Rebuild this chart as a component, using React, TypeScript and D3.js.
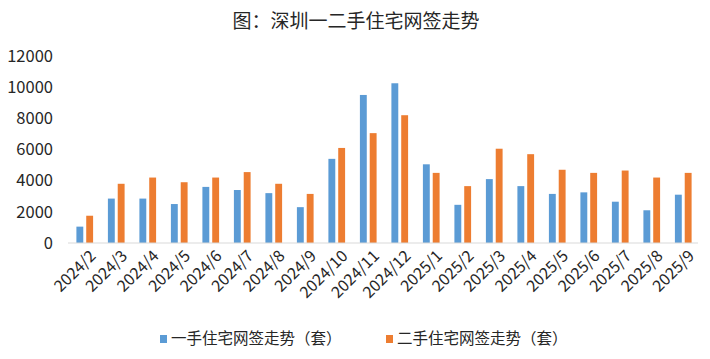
import React from 'react';
import * as d3 from 'd3';

const months = [
  '2024/2', '2024/3', '2024/4', '2024/5', '2024/6', '2024/7', '2024/8', '2024/9', '2024/10', '2024/11',
  '2024/12', '2025/1', '2025/2', '2025/3', '2025/4', '2025/5', '2025/6', '2025/7', '2025/8', '2025/9',
];
const newHomes = [1050, 2850, 2850, 2500, 3600, 3400, 3200, 2300, 5400, 9500, 10250, 5050, 2450, 4100, 3650, 3150, 3250, 2650, 2100, 3100];
const resaleHomes = [1750, 3800, 4200, 3900, 4200, 4550, 3800, 3150, 6100, 7050, 8200, 4500, 3650, 6050, 5700, 4700, 4500, 4650, 4200, 4500];
const seriesNames = ['一手住宅网签走势（套）', '二手住宅网签走势（套）'];
const colors = ['#5B9BD5', '#ED7D31'];
const yTicks = [0, 2000, 4000, 6000, 8000, 10000, 12000];

const font = '"Noto Sans CJK SC", "Noto Sans", sans-serif';

const App = () => {
  const width = 710;
  const height = 359;

  const x0 = d3.scaleBand().domain(months).range([69, 699]).paddingInner(0.47).paddingOuter(0.235);
  const x1 = d3.scaleBand().domain(['a', 'b']).range([0, x0.bandwidth()]).paddingInner(0.3);
  const y = d3.scaleLinear().domain([0, 12000]).range([243, 56]);

  const rows = months.map((m, i) => ({ m, a: newHomes[i], b: resaleHomes[i] }));

  return (
    <svg width={width} height={height} style={{ position: 'absolute', left: 0, top: 0, background: '#fff' }} fontFamily={font}>
      <text x={356} y={28} textAnchor="middle" fontSize={19} fill="#262626">图：深圳一二手住宅网签走势</text>

      {yTicks.map(t => (
        <text key={t} x={53} y={y(t)} dy="0.35em" textAnchor="end" fontSize={16.5} fill="#262626">{t}</text>
      ))}

      {rows.map(r => (
        <g key={r.m} transform={`translate(${x0(r.m)},0)`}>
          <rect x={x1('a')} y={y(r.a)} width={x1.bandwidth()} height={y(0) - y(r.a)} fill={colors[0]} />
          <rect x={x1('b')} y={y(r.b)} width={x1.bandwidth()} height={y(0) - y(r.b)} fill={colors[1]} />
        </g>
      ))}

      <line x1={68} x2={698} y1={y(0)} y2={y(0)} stroke="#D9D9D9" strokeWidth={1} />

      {months.map(m => {
        const cx = (x0(m) as number) + x0.bandwidth() / 2 + 4;
        return (
          <text key={m} transform={`translate(${cx},249) rotate(-45)`} textAnchor="end" dy="0.7em" fontSize={16} fill="#262626">{m}</text>
        );
      })}

      {seriesNames.map((s, i) => {
        const lx = i === 0 ? 160 : 386;
        return (
          <g key={s}>
            <rect x={lx} y={335} width={7} height={8} fill={colors[i]} />
            <text x={lx + 11} y={339} dy="0.35em" fontSize={15.5} fill="#262626">{s}</text>
          </g>
        );
      })}
    </svg>
  );
};

export default App;
